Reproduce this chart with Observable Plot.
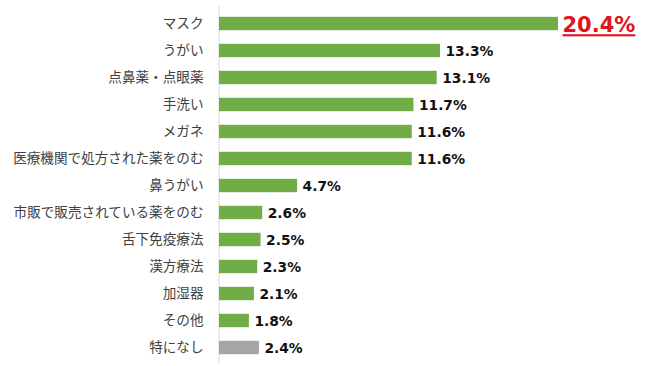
<!DOCTYPE html>
<html>
<head>
<meta charset="utf-8">
<script src="https://cdn.jsdelivr.net/npm/d3@7"></script>
<script src="https://cdn.jsdelivr.net/npm/@observablehq/plot@0.6"></script>
<style>
  html, body { margin: 0; padding: 0; background: #fff; }
  #chart svg { display: block; }
</style>
</head>
<body>
<div id="chart"></div>
<script>
const categories = ["マスク", "うがい", "点鼻薬・点眼薬", "手洗い", "メガネ", "医療機関で処方された薬をのむ", "鼻うがい", "市販で販売されている薬をのむ", "舌下免疫療法", "漢方療法", "加湿器", "その他", "特になし"];
const values = [20.4, 13.3, 13.1, 11.7, 11.6, 11.6, 4.7, 2.6, 2.5, 2.3, 2.1, 1.8, 2.4];
const groups = ["対策", "対策", "対策", "対策", "対策", "対策", "対策", "対策", "対策", "対策", "対策", "対策", "なし"];

const data = categories.map((c, i) => ({category: c, value: values[i], group: groups[i]}));
const topRow = data.slice(0, 1);
const restRows = data.slice(1);

const chart = Plot.plot({
  width: 650,
  height: 366,
  marginLeft: 219,
  marginRight: 92,
  marginTop: 6,
  marginBottom: 2,
  x: {domain: [0, 20.4], axis: null},
  y: {domain: categories, padding: 0, axis: null},
  color: {domain: ["対策", "なし"], range: ["#70AD47", "#A5A5A5"]},
  style: {fontFamily: "'Noto Sans CJK JP', sans-serif", background: "#fff"},
  marks: [
    Plot.ruleX([0], {stroke: "#D9D9D9", strokeWidth: 1, dx: -0.5}),
    Plot.barX(data, {x: "value", y: "category", fill: "group", insetTop: 6.8, insetBottom: 6.8}),
    Plot.text(data, {
      x: 0, y: "category", text: "category", textAnchor: "end", dx: -16,
      fill: "#404040", fontSize: 13.6, fontFamily: "'Noto Sans CJK JP', sans-serif"
    }),
    Plot.text(restRows, {
      x: "value", y: "category", text: d => d.value.toFixed(1) + "%", textAnchor: "start", dx: 5, dy: 1,
      fill: "#111", fontSize: 13.8, fontWeight: "bold", fontFamily: "'DejaVu Sans', sans-serif"
    }),
    Plot.text(topRow, {
      x: "value", y: "category", text: d => d.value.toFixed(1) + "%", textAnchor: "start", dx: 4, dy: 1.5,
      fill: "#E0151B", fontSize: 21, fontWeight: "bold", fontFamily: "'DejaVu Sans', sans-serif"
    })
  ]
});
const textGroups = d3.select(chart).selectAll("g[aria-label='text']").nodes();
d3.select(textGroups[textGroups.length - 1]).selectAll("text").style("text-decoration", "underline");
document.getElementById("chart").appendChild(chart);
</script>
</body>
</html>
